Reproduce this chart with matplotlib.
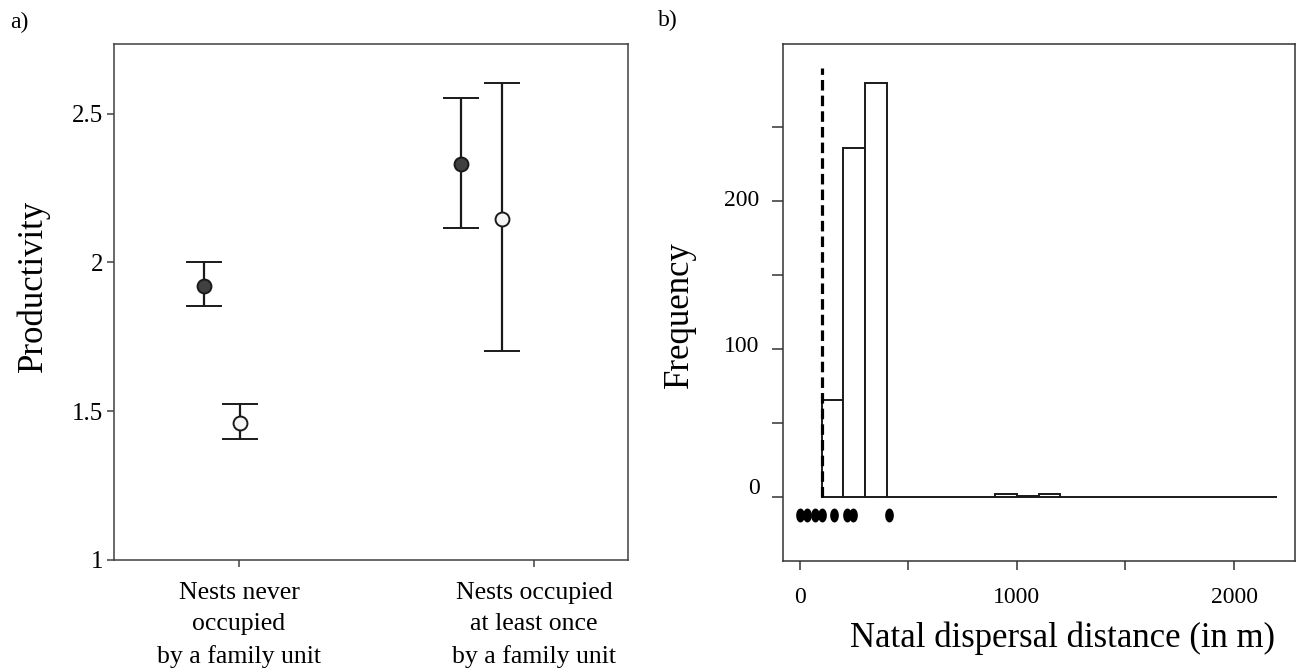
import numpy as np
import matplotlib
matplotlib.use("Agg")
import matplotlib.pyplot as plt
from matplotlib.path import Path
from matplotlib.transforms import ScaledTranslation

plt.rcParams['font.family'] = ['Liberation Serif', 'DejaVu Serif']

# a) productivity per nest type
categories = ["Nests never\noccupied\nby a family unit",
              "Nests occupied\nat least once\nby a family unit"]
dark_mean = [1.92, 2.332]
dark_lo = [1.853, 2.115]
dark_hi = [2.00, 2.553]
white_mean = [1.461, 2.146]
white_lo = [1.406, 1.702]
white_hi = [1.525, 2.604]

# b) natal dispersal histogram
bin_left = [100, 200, 300, 400, 500, 600, 700, 800, 900, 1000, 1100,
            1200, 1300, 1400, 1500, 1600, 1700, 1800, 1900, 2000, 2100]
counts = [66, 236, 280, 0, 0, 0, 0, 0, 2, 1, 2,
          0, 0, 0, 0, 0, 0, 0, 0, 0, 0]
dot_x = [0, 31, 69, 100, 157, 218, 243, 411]
cutoff = 100
cutoff_top = 290

W, H = 1298, 669
fig = plt.figure(figsize=(W / 100, H / 100), dpi=100)

"""Panel a"""
ax1 = fig.add_axes([114 / W, 1 - 560 / H, 514 / W, 516 / H])
pos = np.array([1, 2])
dodge_dark = np.array([-0.119, -0.247])
dodge_white = np.array([0.003, -0.108])

def err(mean, lo, hi):
    mean = np.array(mean)
    return [mean - np.array(lo), np.array(hi) - mean]

ax1.errorbar(pos + dodge_dark, dark_mean, yerr=err(dark_mean, dark_lo, dark_hi),
             fmt="o", color="#1a1a1a", mfc="#404040", mec="#1a1a1a", ms=10, mew=1.4,
             elinewidth=1.6, capsize=13, capthick=1.6, zorder=3)
ax1.errorbar(pos + dodge_white, white_mean, yerr=err(white_mean, white_lo, white_hi),
             fmt="o", color="#1a1a1a", mfc="#f4f4f4", mec="#1a1a1a", ms=10, mew=1.4,
             elinewidth=1.6, capsize=13, capthick=1.6, zorder=3)

ax1.set_xlim(0.576, 2.319)
ax1.set_ylim(1, 2.734)
ax1.set_xticks(pos)
ax1.set_xticklabels(categories, fontsize=18.5, linespacing=1.53)
ax1.set_yticks([1, 1.5, 2, 2.5])
ax1.set_yticklabels(["1", "1.5", "2", "2.5"], fontsize=18)
ax1.tick_params(axis="both", direction="out", length=5, width=1.1, color="#404040")
ax1.tick_params(axis="x", pad=11)
ax1.tick_params(axis="y", pad=3)
for s in ax1.spines.values():
    s.set_color("#404040")
    s.set_linewidth(1.1)
ax1.set_ylabel("Productivity", fontsize=25, va="center")
ax1.yaxis.set_label_coords(-0.158, 0.531)

"""Panel b"""
ax2 = fig.add_axes([783 / W, 1 - 561 / H, 512 / W, 517 / H])
ax2.bar(bin_left, counts, width=100, align="edge", color="white",
        edgecolor="#1a1a1a", linewidth=1.4, zorder=2)
ax2.vlines(cutoff, 0, cutoff_top, colors="black", linewidth=2.3,
           linestyles=(0, (3.3, 1.6)), zorder=3)

t = np.linspace(0, 2 * np.pi, 40)
ellipse = Path(np.column_stack([0.58 * np.cos(t), np.sin(t)]), closed=True)
ax2.plot(dot_x, [-12] * len(dot_x), linestyle="none", marker=ellipse,
         ms=9, color="black", zorder=3)

ax2.set_xlim(-78, 2281)
ax2.set_ylim(-43, 306)
ax2.set_xticks([0, 500, 1000, 1500, 2000])
ax2.set_xticklabels(["0", "", "1000", "", "2000"], fontsize=17)
ax2.set_yticks([0, 50, 100, 150, 200, 250])
ax2.set_yticklabels(["0", "", "100", "", "200", ""], fontsize=17)
ax2.tick_params(axis="x", direction="out", length=6.5, width=1.1, pad=12, color="#333333")
ax2.tick_params(axis="y", direction="out", length=8, width=1.1, pad=9, color="#333333")
for s in ax2.spines.values():
    s.set_color("#333333")
    s.set_linewidth(1.1)

# the y labels sit a little above their ticks in the original
lift = [8, 0, 4, 0, 2, 0]
for lab, dy in zip(ax2.get_yticklabels(), lift):
    lab.set_transform(lab.get_transform() + ScaledTranslation(0, dy / 72, fig.dpi_scale_trans))

ax2.set_xlabel("Natal dispersal distance (in m)", fontsize=25, va="center")
ax2.xaxis.set_label_coords((1062 - 783) / 512, (561 - 638) / 517)
ax2.set_ylabel("Frequency", fontsize=25, va="center")
ax2.yaxis.set_label_coords((679 - 783) / 512, (561 - 315) / 517)

fig.text(19 / W, 1 - 22 / H, "a)", fontsize=17, ha="center", va="center")
fig.text(668 / W, 1 - 20 / H, "b)", fontsize=17, ha="center", va="center")

fig.savefig("out.png", dpi=100)
